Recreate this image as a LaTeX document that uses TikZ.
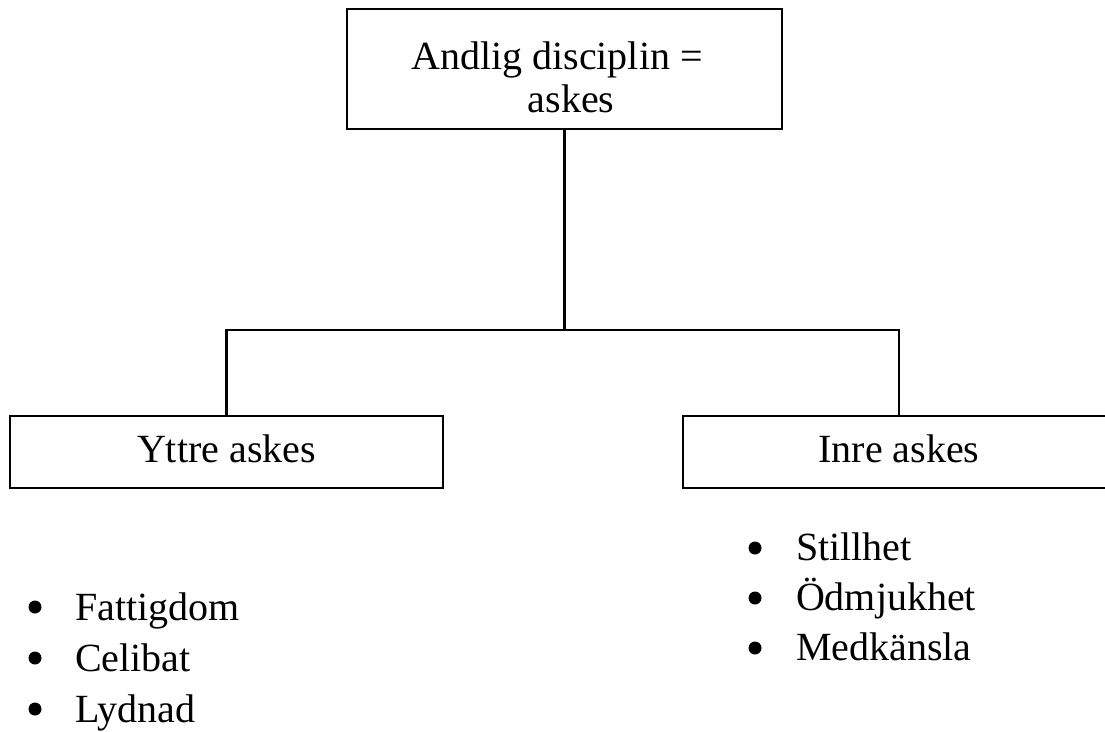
\documentclass[tikz,border=0pt]{standalone}
\usepackage{fontspec}
\setmainfont{Liberation Serif}
\usetikzlibrary{positioning}

\tikzset{
  ruta/.style={draw, line width=2.2pt, inner sep=0pt, text height=26pt, text depth=6pt},
  punkt/.style={circle, fill, inner sep=0pt, minimum size=13pt},
  rad/.style={anchor=base west, inner sep=0pt},
}

\begin{document}
\begin{tikzpicture}[x=1pt, y=-1pt, line width=2.2pt, font=\fontsize{40}{50}\selectfont]
	\useasboundingbox (0,0) rectangle (1105,731);

	% Översta rutan
	\node[ruta, minimum width=435pt, minimum height=120pt] (topp) at (564.5,69) {};
	\node[anchor=base, inner sep=0pt] (topp1) at (557,69) {Andlig disciplin =};
	\node[anchor=base, inner sep=0pt] (topp2) at (571,112) {askes};

	% De två undre rutorna
	\node[ruta, minimum width=433pt, minimum height=72pt] (yttre) at (226.5,452) {Yttre askes};
	\node[ruta, minimum width=432pt, minimum height=72pt] (inre) at (899,452) {Inre askes};

	% Förgrening
	\coordinate (gren) at (564.5,330);
	\draw (topp.south) -- (gren);
	\draw (yttre.north) |- (gren) -| (inre.north);

	% Punktlista under yttre askes
	\foreach \ord [count=\i] in {Fattigdom, Celibat, Lydnad} {
		\node[punkt] (yp\i) at (35,{607+51*(\i-1)}) {};
		\node[rad] (yt\i) at (74,{620+51*(\i-1)}) {\ord};
	}

	% Punktlista under inre askes
	\foreach \ord [count=\i] in {Stillhet, Ödmjukhet, Medkänsla} {
		\node[punkt] (ip\i) at (755,{548+50*(\i-1)}) {};
		\node[rad] (it\i) at (795,{560+50*(\i-1)}) {\ord};
	}
\end{tikzpicture}
\end{document}
